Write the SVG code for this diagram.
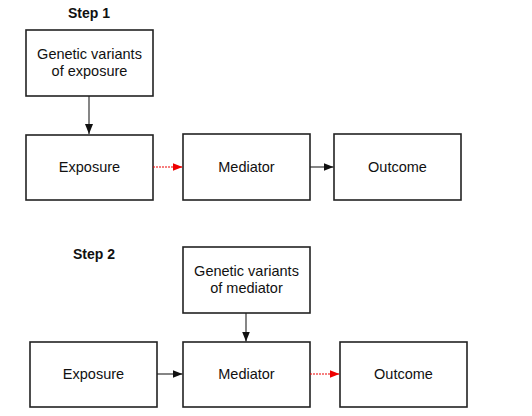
<svg xmlns="http://www.w3.org/2000/svg" width="532" height="416" viewBox="0 0 532 416">
<defs>
<style>
.box{fill:#fff;stroke:#222;stroke-width:1.6}
.t{font-family:"Liberation Sans",Arial,sans-serif;font-size:14.5px;fill:#111;text-anchor:middle}
.h{font-family:"Liberation Sans",Arial,sans-serif;font-size:14px;font-weight:bold;fill:#111;text-anchor:middle}
.c{fill:none;stroke:#222;stroke-width:1.1}
.r{fill:none;stroke:#e00;stroke-width:1.1;stroke-dasharray:2 1}
</style>
<marker id="ak" viewBox="0 0 10 8" refX="10" refY="4" markerWidth="10" markerHeight="8" markerUnits="userSpaceOnUse" orient="auto"><path d="M0,0L10,4L0,8z" fill="#111"/></marker>
<marker id="ar" viewBox="0 0 10 8" refX="10" refY="4" markerWidth="10" markerHeight="8" markerUnits="userSpaceOnUse" orient="auto"><path d="M0,0L10,4L0,8z" fill="#e00"/></marker>
</defs>
<rect width="532" height="416" fill="#fff"/>
<text class="h" x="89" y="18">Step 1</text>
<text class="h" x="94" y="259">Step 2</text>
<g id="n1-gv"><rect class="box" x="26" y="30" width="127" height="66"/><text class="t" x="89.5" y="59">Genetic variants</text><text class="t" x="89.5" y="76">of exposure</text></g>
<g id="n1-exp"><rect class="box" x="26" y="135" width="127" height="65"/><text class="t" x="89.5" y="172">Exposure</text></g>
<g id="n1-med"><rect class="box" x="183" y="134" width="127" height="66"/><text class="t" x="246.5" y="172">Mediator</text></g>
<g id="n1-out"><rect class="box" x="334" y="134" width="127" height="66"/><text class="t" x="397.5" y="172">Outcome</text></g>
<g id="n2-gv"><rect class="box" x="183" y="247" width="127" height="66"/><text class="t" x="246.5" y="276">Genetic variants</text><text class="t" x="246.5" y="293">of mediator</text></g>
<g id="n2-exp"><rect class="box" x="30" y="342" width="127" height="65"/><text class="t" x="93.5" y="379">Exposure</text></g>
<g id="n2-med"><rect class="box" x="183" y="342" width="127" height="65"/><text class="t" x="246.5" y="379">Mediator</text></g>
<g id="n2-out"><rect class="box" x="340" y="342" width="127" height="65"/><text class="t" x="403.5" y="379">Outcome</text></g>
<g id="connectors">
<line class="c" x1="89" y1="96" x2="89" y2="134" marker-end="url(#ak)"/>
<line class="r" x1="153" y1="167" x2="182.5" y2="167" marker-end="url(#ar)"/>
<line class="c" x1="310" y1="167" x2="333.5" y2="167" marker-end="url(#ak)"/>
<line class="c" x1="246" y1="313" x2="246" y2="341.5" marker-end="url(#ak)"/>
<line class="c" x1="157" y1="374" x2="182.5" y2="374" marker-end="url(#ak)"/>
<line class="r" x1="310" y1="374" x2="339.5" y2="374" marker-end="url(#ar)"/>
</g>
</svg>
